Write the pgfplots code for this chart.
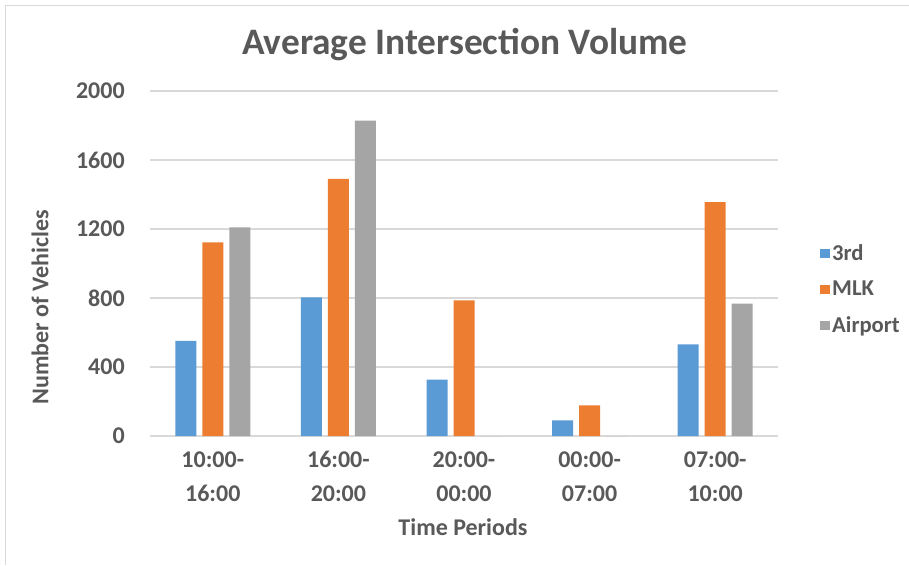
\documentclass[border=0pt]{standalone}
\usepackage{pgfplots}
\pgfplotsset{compat=1.18}
\usepackage{fontspec}
\setmainfont{Carlito}
\definecolor{cthird}{HTML}{5B9BD5}
\definecolor{cmlk}{HTML}{ED7D31}
\definecolor{cair}{HTML}{A5A5A5}
\definecolor{txt}{HTML}{595959}
\definecolor{gridc}{HTML}{D9D9D9}
\begin{document}
\begin{tikzpicture}
\useasboundingbox (0,0) rectangle (681.75pt,423.75pt);
\fill[white] (0,0) rectangle (681.75pt,423.75pt);
\draw[gridc, line width=0.75pt] (4pt,0) -- (4pt,419.5pt) -- (681.75pt,419.5pt);
\begin{axis}[
  at={(112.5pt,96.75pt)}, anchor=south west,
  scale only axis, width=471pt, height=258.75pt,
  xmin=-0.5, xmax=4.5, ymin=0, ymax=2000,
  ytick={0,400,800,1200,1600,2000},
  xtick={0,1,2,3,4},
  xticklabels={{10:00-\\16:00},{16:00-\\20:00},{20:00-\\00:00},{00:00-\\07:00},{07:00-\\10:00}},
  xticklabel style={align=center, font=\fontsize{18}{25.5}\selectfont\bfseries, text=txt, inner sep=0pt, anchor=north, yshift=-7pt},
  yticklabel style={font=\fontsize{18}{22}\selectfont\bfseries, text=txt, inner sep=0pt, anchor=east, xshift=-18.75pt},
  /pgf/number format/assume math mode=true,
  /pgf/number format/1000 sep={},
  scaled y ticks=false,
  axis line style={draw=none},
  tick style={draw=none},
  ymajorgrids, grid style={gridc, line width=0.9pt},
  ybar, bar width=15.75pt,
  legend style={at={(1.06,0.425)}, anchor=west, draw=none, fill=none,
    font=\fontsize{17}{20}\selectfont\bfseries, text=txt, row sep=10pt,
    legend cell align=left},
  legend image code/.code={\fill[#1] (0pt,-3.6pt) rectangle (7.2pt,3.6pt);},
]
\addplot[fill=cthird, draw=none, bar shift=-20.25pt] coordinates {(0,551) (1,804) (2,327) (3,91) (4,531)};
\addplot[fill=cmlk, draw=none, bar shift=0pt] coordinates {(0,1123) (1,1490) (2,786) (3,178) (4,1356)};
\addplot[fill=cair, draw=none, bar shift=20.25pt] coordinates {(0,1210) (1,1828) (2,0) (3,0) (4,767)};
\legend{3rd, MLK, Airport}
\end{axis}
\node[text=txt, font=\fontsize{28}{32}\selectfont\bfseries] at (348.75pt,390pt) {Average Intersection Volume};
\node[text=txt, font=\fontsize{18}{22}\selectfont\bfseries, rotate=90] at (30pt,193.5pt) {Number of Vehicles};
\node[text=txt, font=\fontsize{18}{22}\selectfont\bfseries] at (347.25pt,28.5pt) {Time Periods};
\end{tikzpicture}
\end{document}
